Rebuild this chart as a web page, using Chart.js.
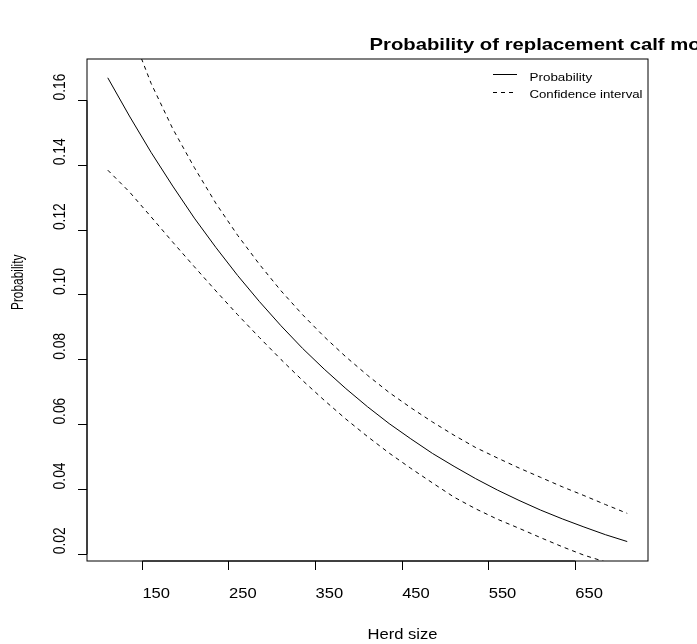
<!DOCTYPE html>
<html>
<head>
<meta charset="utf-8">
<script src="https://cdn.jsdelivr.net/npm/chart.js@4.4.0/dist/chart.umd.min.js"></script>
<style>
html,body{margin:0;padding:0;background:#ffffff;overflow:hidden}
#wrap{width:697px;height:644px;position:relative}
canvas{display:block}
</style>
</head>
<body>
<div id="wrap"><canvas id="c" width="697" height="644"></canvas></div>
<script>
// ---- data ----
const herdSize = [110,135,160,185,210,235,260,285,310,335,360,385,410,435,460,485,510,535,560,585,610,635,660,685,710];
const probability = [0.1670,0.1552,0.1440,0.1336,0.1237,0.1146,0.1060,0.0980,0.0905,0.0835,0.0771,0.0711,0.0655,0.0603,0.0556,0.0511,0.0471,0.0433,0.0398,0.0366,0.0336,0.0309,0.0284,0.0260,0.0239];
const upperCI = [0.2007,0.1825,0.1653,0.1513,0.1393,0.1282,0.1184,0.1095,0.1013,0.0939,0.0871,0.0809,0.0752,0.0699,0.0652,0.0608,0.0567,0.0529,0.0497,0.0466,0.0437,0.0408,0.0381,0.0353,0.0326];
const lowerCI = [0.1385,0.1318,0.1241,0.1163,0.1087,0.1012,0.0939,0.0869,0.0801,0.0736,0.0675,0.0617,0.0563,0.0512,0.0465,0.0420,0.0376,0.0340,0.0308,0.0280,0.0251,0.0223,0.0197,0.0176,0.0158];
const xTicks = [150,250,350,450,550,650];
const xTickLabels = ['150','250','350','450','550','650'];
const yTicks = [0.02,0.04,0.06,0.08,0.10,0.12,0.14,0.16];
const yTickLabels = ['0.02','0.04','0.06','0.08','0.10','0.12','0.14','0.16'];
const titleText = 'Probability of replacement calf mortality';
const xTitle = 'Herd size';
const yTitle = 'Probability';
const legendLabels = ['Probability','Confidence interval'];
const xRange = [86, 734];
const yRange = [0.0179, 0.1728];

const FONT = '"Liberation Sans", Arial, Helvetica, sans-serif';
const SX = 1.2;

function toXY(ys){ return herdSize.map((x,i)=>({x:x, y:ys[i]})); }

function drawText(ctx, text, x, y, size, bold, angle, sy){
  ctx.save();
  ctx.translate(x, y);
  ctx.scale(SX, sy || 1);
  if (angle) ctx.rotate(angle);
  ctx.font = (bold ? 'bold ' : '') + size + 'px ' + FONT;
  ctx.fillStyle = '#000';
  ctx.textAlign = 'left';
  ctx.textBaseline = 'alphabetic';
  ctx.fillText(text, 0, 0);
  ctx.restore();
}

const rPlot = {
  id: 'rPlot',
  afterDatasetsDraw(chart){
    const ctx = chart.ctx;
    const a = chart.chartArea;
    const xs = chart.scales.x, ys = chart.scales.y;
    ctx.save();
    ctx.strokeStyle = '#000';
    ctx.lineWidth = 1;
    ctx.setLineDash([]);
    ctx.strokeRect(a.left, a.top, a.right - a.left, a.bottom - a.top);
    ctx.beginPath();
    ctx.moveTo(xs.getPixelForValue(xTicks[0]), a.bottom);
    ctx.lineTo(xs.getPixelForValue(xTicks[xTicks.length-1]), a.bottom);
    ctx.moveTo(a.left, ys.getPixelForValue(yTicks[0]));
    ctx.lineTo(a.left, ys.getPixelForValue(yTicks[yTicks.length-1]));
    ctx.stroke();
    ctx.restore();

    // legend
    ctx.save();
    ctx.strokeStyle = '#000';
    ctx.lineWidth = 1;
    ctx.beginPath();
    ctx.moveTo(493, 74.5); ctx.lineTo(517, 74.5);
    ctx.stroke();
    ctx.setLineDash([4,4]);
    ctx.beginPath();
    ctx.moveTo(493, 92.5); ctx.lineTo(517, 92.5);
    ctx.stroke();
    ctx.restore();
    drawText(ctx, legendLabels[0], 529.5, 80.5, 11.2, false, 0);
    drawText(ctx, legendLabels[1], 529.5, 97.5, 11, false, 0);

    drawText(ctx, titleText, (a.left + a.right)/2 + 2, 50, 16.9, true, 0);
    xTicks.forEach((v,i)=>{
      drawText(ctx, xTickLabels[i], xs.getPixelForValue(v), 598, 13.8, false, 0);
    });
    drawText(ctx, xTitle, (a.left + a.right)/2, 639, 13.8, false, 0);
    yTicks.forEach((v,i)=>{
      drawText(ctx, yTickLabels[i], 65, ys.getPixelForValue(v), 13.8, false, -Math.PI/2);
    });
    drawText(ctx, yTitle, 23, (a.top + a.bottom)/2, 13.8, false, -Math.PI/2, 0.86);
  }
};

new Chart(document.getElementById('c'), {
  type: 'line',
  data: {
    datasets: [
      { label: legendLabels[0], data: toXY(probability), borderColor: '#000', borderWidth: 1, pointRadius: 0, fill: false, tension: 0 },
      { label: 'Upper', data: toXY(upperCI), borderColor: '#000', borderWidth: 1, borderDash: [4,4], pointRadius: 0, fill: false, tension: 0 },
      { label: 'Lower', data: toXY(lowerCI), borderColor: '#000', borderWidth: 1, borderDash: [4,4], pointRadius: 0, fill: false, tension: 0 }
    ]
  },
  options: {
    responsive: false,
    animation: false,
    devicePixelRatio: 1,
    layout: { padding: { left: 0, top: 59, right: 49, bottom: 0 } },
    plugins: { legend: { display: false }, tooltip: { enabled: false }, title: { display: false } },
    scales: {
      x: {
        type: 'linear', position: 'bottom', min: xRange[0], max: xRange[1],
        afterBuildTicks: s => { s.ticks = xTicks.map(v => ({ value: v })); },
        afterFit: s => { s.height = 83; },
        grid: { display: true, drawOnChartArea: false, drawTicks: true, tickLength: 9, color: '#000', lineWidth: 1 },
        border: { display: false },
        ticks: { display: false }
      },
      y: {
        type: 'linear', position: 'left', min: yRange[0], max: yRange[1],
        afterBuildTicks: s => { s.ticks = yTicks.map(v => ({ value: v })); },
        afterFit: s => { s.width = 87; },
        grid: { display: true, drawOnChartArea: false, drawTicks: true, tickLength: 9, color: '#000', lineWidth: 1 },
        border: { display: false },
        ticks: { display: false }
      }
    }
  },
  plugins: [rPlot]
});
</script>
</body>
</html>
